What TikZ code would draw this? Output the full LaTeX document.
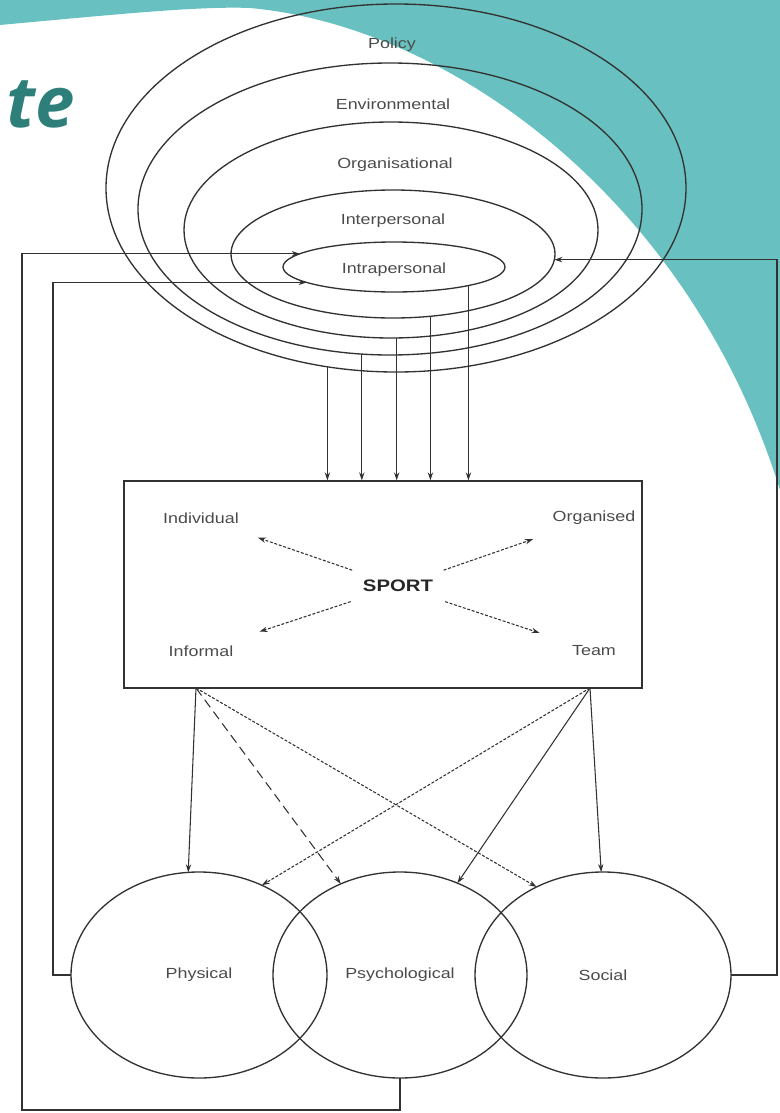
\documentclass[tikz,border=0pt]{standalone}
\usepackage{fontspec}
\newfontfamily\diagfont{Liberation Sans}[FakeStretch=1.22]
\newfontfamily\slidefont{Open Sans}
\usetikzlibrary{shapes.geometric, arrows.meta}
\definecolor{slideteal}{RGB}{104,193,192}
\definecolor{titleteal}{RGB}{46,126,122}
\definecolor{inkgray}{RGB}{50,50,50}
\definecolor{labelgray}{RGB}{75,75,75}

\begin{document}
\begin{tikzpicture}[
        x=0.75pt, y=-0.75pt,
        >={Stealth[length=6pt, width=4pt]},
        every node/.style={
            font=\diagfont\fontsize{11}{13}\selectfont,
            text=labelgray
        },
        ring/.style={draw=inkgray, ellipse, line width=1pt, inner sep=0pt, outer sep=0pt},
        sportbox/.style={draw=inkgray, line width=1pt, inner sep=0pt,
            minimum width=388.5pt, minimum height=155.25pt},
        spoke/.style={->, draw=inkgray, line width=0.8pt, dash pattern=on 2.2pt off 1.3pt,
            shorten <=12pt, shorten >=22pt},
        link/.style={->, draw=inkgray, line width=0.8pt},
        dotlink/.style={link, dash pattern=on 2.2pt off 1.3pt},
        dashlink/.style={link, dash pattern=on 7pt off 4pt}
    ]
        \useasboundingbox (0,0) rectangle (780,1113);

        % slide background
        \fill[slideteal] (0,0) -- (0,25) .. controls (120,14) and (200,6) .. (250,8)
            .. controls (450,26) and (690,200) .. (780,490) -- (780,0) -- cycle;
        \node[font=\slidefont\bfseries\itshape\fontsize{53}{53}\selectfont, text=titleteal,
            anchor=base west, inner sep=0pt] (title) at (6,127) {te};

        % levels of influence
        \node[ring, minimum width=435pt, minimum height=276pt] (policy) at (396,188) {};
        \node[ring, minimum width=378pt, minimum height=219pt] (environmental) at (390,209) {};
        \node[ring, minimum width=310.5pt, minimum height=162pt] (organisational) at (391,230) {};
        \node[ring, minimum width=243pt, minimum height=96pt] (interpersonal) at (393,254) {};
        \node[ring, minimum width=166.5pt, minimum height=37.5pt] (intrapersonal) at (394,267) {};

        \node (policytext) at (392,45) {Policy};
        \node (environmentaltext) at (393,104) {Environmental};
        \node (organisationaltext) at (395,165) {Organisational};
        \node (interpersonaltext) at (393,221) {Interpersonal};
        \node (intrapersonaltext) at (394,270) {Intrapersonal};

        % sport box
        \node[sportbox] (box) at (383,584.5) {};
        \node (individual) at (201,518) {Individual};
        \node (organised) at (594,518) {Organised};
        \node (informal) at (201,651) {Informal};
        \node (team) at (594,651) {Team};
        \node[font=\diagfont\bfseries\fontsize{12.5}{15}\selectfont, text=black!85] (sport) at (398,586) {SPORT};

        \draw[spoke] (sport) -- (individual);
        \draw[spoke] (sport) -- (organised);
        \draw[spoke] (sport) -- (informal);
        \draw[spoke] (sport) -- (team);

        \draw[link] (policy.-111) -- (policy.-111 |- box.north);
        \draw[link] (environmental.-101) -- (environmental.-101 |- box.north);
        \draw[link] (organisational.-87) -- (organisational.-87 |- box.north);
        \draw[link] (interpersonal.-59) -- (interpersonal.-59 |- box.north);
        \draw[link] (intrapersonal.-14) -- (intrapersonal.-14 |- box.north);

        % outcomes
        \node[ring, minimum width=192pt, minimum height=154.5pt] (physical) at (199,975) {Physical};
        \node[ring, minimum width=190.5pt, minimum height=154.5pt] (psychological) at (400,975) {Psychological};
        \node[ring, minimum width=192pt, minimum height=154.5pt] (social) at (603,975) {Social};

        \coordinate (informalfoot) at (196,688);
        \coordinate (teamfoot) at (590,688);

        \draw[link] (informalfoot) -- (physical.96);
        \draw[dashlink] (informalfoot) -- (psychological.123);
        \draw[dotlink] (informalfoot) -- (social.127);
        \draw[dotlink] (teamfoot) -- (physical.55);
        \draw[link] (teamfoot) -- (psychological.58);
        \draw[link] (teamfoot) -- (social.91);

        % feedback
        \coordinate (loopcorner) at (22,1110);
        \draw[link] (physical.west) -- ++(-18,0) |- (intrapersonal.190);
        \draw[link] (psychological.south) |- (loopcorner) |- (intrapersonal.172);
        \draw[link] (social.east) -- ++(46,0) |- (interpersonal.-2);
    \end{tikzpicture}
\end{document}
